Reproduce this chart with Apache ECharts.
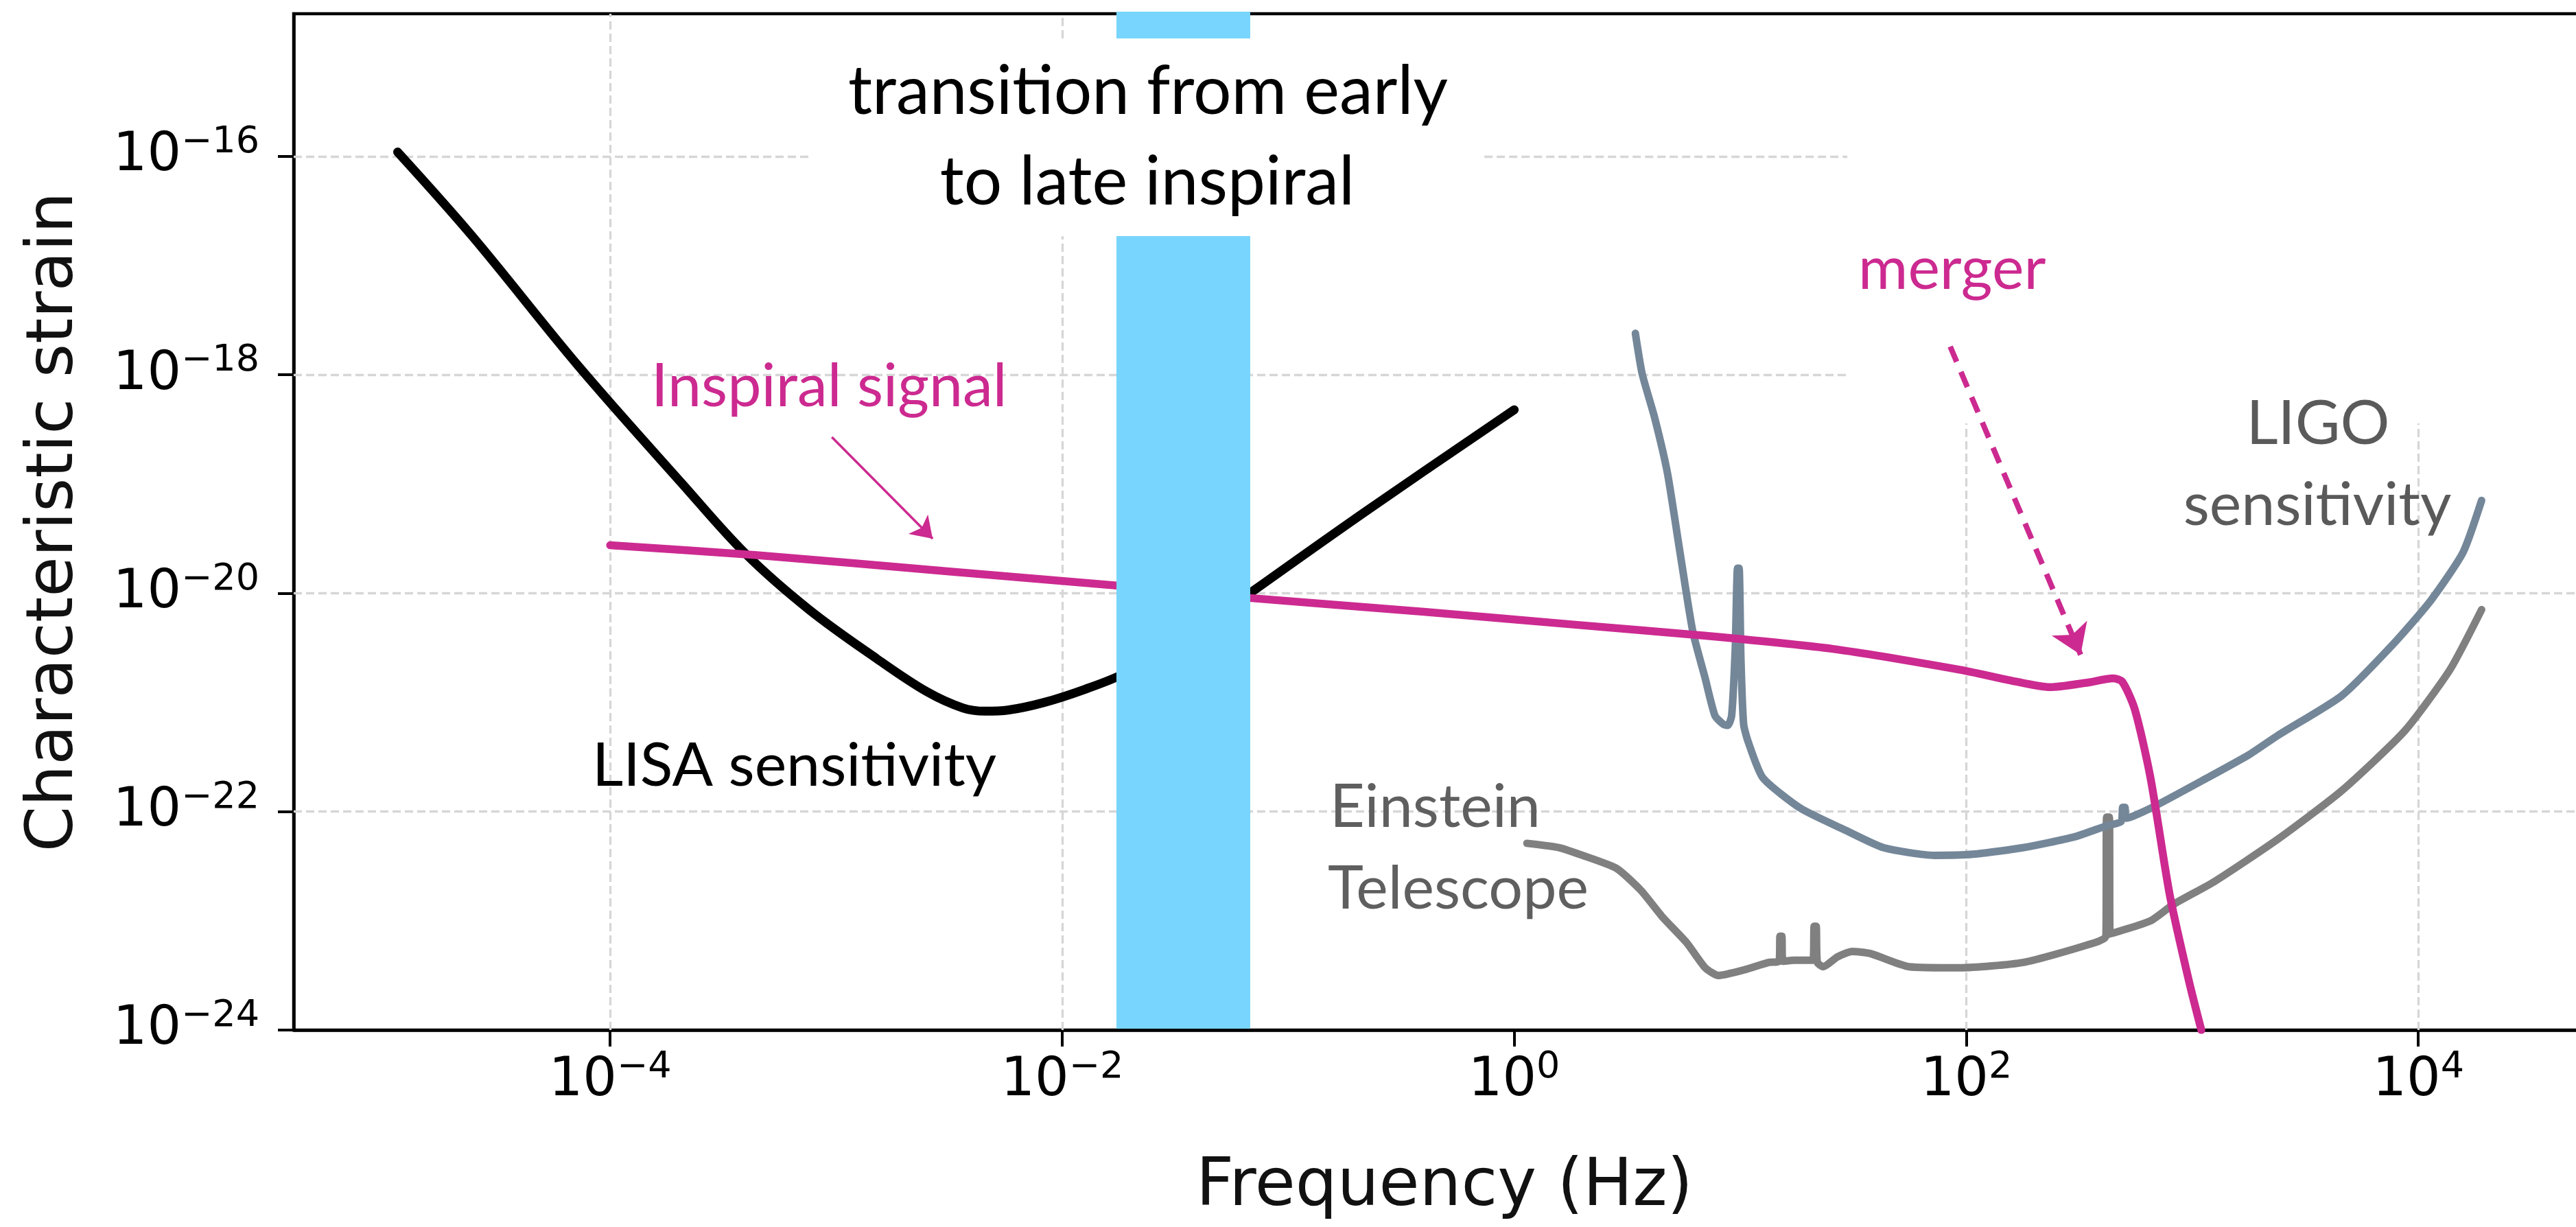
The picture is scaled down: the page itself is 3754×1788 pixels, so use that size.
<!DOCTYPE html>
<html>
<head>
<meta charset="utf-8">
<script src="https://cdn.jsdelivr.net/npm/echarts@6/dist/echarts.min.js"></script>
<style>
html,body{margin:0;padding:0;background:#fff;}
#chart{width:3754px;height:1788px;}
</style>
</head>
<body>
<div id="chart"></div>
<script>
// ---- axis ticks (log10 exponents) ----
const xTickExps = [-4, -2, 0, 2, 4];
const yTickExps = [-24, -22, -20, -18, -16];

// ---- curves, as log10(frequency / Hz) and log10(characteristic strain) ----
const lisaLogF = [-4.94, -4.61, -4.14, -3.68, -3.40, -3.12, -2.82, -2.60, -2.44, -2.34, -2.24, -2.08, -1.90, -1.73, -1.45, -1.19, -0.65, 0.0];
const lisaLogH = [-15.96, -16.73, -17.92, -19.00, -19.64, -20.15, -20.60, -20.90, -21.05, -21.08, -21.07, -21.00, -20.88, -20.74, -20.42, -20.03, -19.24, -18.32];

const inspLogF = [-4.0, -3.36, -2.5, -1.76, -1.19, -0.4, 0.28, 0.85, 1.41, 1.97, 2.20, 2.37, 2.53, 2.65, 2.69, 2.745, 2.815, 2.90, 2.985, 3.04];
const inspLogH = [-19.56, -19.65, -19.80, -19.93, -20.04, -20.17, -20.29, -20.39, -20.51, -20.70, -20.80, -20.86, -20.82, -20.78, -20.81, -21.06, -21.69, -22.76, -23.55, -24.0];

const ligoLogF = [0.536, 0.566, 0.621, 0.678, 0.733, 0.79, 0.845, 0.888, 0.925, 0.945, 0.962, 0.978, 0.988, 0.995, 1.003, 1.015, 1.035, 1.10, 1.267, 1.465, 1.634, 1.859, 2.03, 2.25, 2.48, 2.62, 2.685, 2.692, 2.702, 2.708, 2.824, 3.067, 3.25, 3.38, 3.66, 3.887, 4.054, 4.197, 4.28];
const ligoLogH = [-17.62, -17.99, -18.39, -18.90, -19.62, -20.35, -20.78, -21.12, -21.20, -21.21, -21.12, -20.50, -19.77, -19.77, -20.60, -21.20, -21.36, -21.69, -21.97, -22.17, -22.33, -22.40, -22.39, -22.33, -22.23, -22.13, -22.09, -21.96, -21.96, -22.06, -21.96, -21.69, -21.48, -21.30, -20.94, -20.47, -20.07, -19.63, -19.15];

const etLogF = [0.056, 0.20, 0.302, 0.453, 0.56, 0.654, 0.763, 0.845, 0.903, 1.015, 1.127, 1.172, 1.176, 1.184, 1.188, 1.24, 1.322, 1.327, 1.336, 1.341, 1.367, 1.43, 1.495, 1.577, 1.747, 1.971, 2.254, 2.536, 2.618, 2.621, 2.633, 2.636, 2.815, 2.916, 3.098, 3.38, 3.66, 3.94, 4.14, 4.28];
const etLogH = [-22.29, -22.33, -22.40, -22.52, -22.72, -22.96, -23.20, -23.43, -23.50, -23.45, -23.38, -23.37, -23.14, -23.14, -23.37, -23.36, -23.36, -23.05, -23.05, -23.38, -23.42, -23.33, -23.28, -23.30, -23.42, -23.43, -23.38, -23.22, -23.14, -22.05, -22.05, -23.12, -23.00, -22.85, -22.64, -22.25, -21.81, -21.26, -20.70, -20.15];

// transition band (log10 frequency)
const bandLogF = [-1.76, -1.168];

// annotation arrows (log10 f, log10 h)
const inspArrow = [[-3.019, -18.571], [-2.573, -19.501]];
const mergerArrow = [[1.929, -17.741], [2.506, -20.563]];

// ---- axis extents ----
const X_MIN = -5.4, X_MAX = 4.728;
const Y_MIN = -24, Y_MAX = -14.693;

// grid line segments (parts hidden in the original are left out)
const gridSegs = [
  [[X_MIN, -22], [X_MAX, -22]],
  [[X_MIN, -20], [X_MAX, -20]],
  [[X_MIN, -18], [1.474, -18]],
  [[X_MIN, -16], [-3.117, -16]],
  [[-0.132, -16], [1.474, -16]],
  [[-4, Y_MIN], [-4, Y_MAX]],
  [[-2, Y_MIN], [-2, -16.73]],
  [[-2, -14.92], [-2, Y_MAX]],
  [[2, Y_MIN], [2, -18.445]],
  [[4, Y_MIN], [4, -18.445]]
];

const MAG = '#CC2A90', LIGO_C = '#748799', ET_C = '#808080', BAND = '#78D5FD';
const zip = (a, b) => a.map((v, i) => [v, b[i]]);
const supLabel = v => '{b|10}{s|' + (v < 0 ? '\u2212' : '') + Math.abs(v) + '}';
const richTicks = {
  b: { fontSize: 78, fontFamily: 'DejaVu Sans', color: '#000', lineHeight: 80 },
  s: { fontSize: 54, fontFamily: 'DejaVu Sans', color: '#000', lineHeight: 54, padding: [0, 0, 40, 0] }
};
const annFont = 'Lato';
const curve = (name, f, h, color, width, z, smooth) => ({
  type: 'line', name, data: zip(f, h), showSymbol: false, z, silent: true,
  smooth,
  lineStyle: { color, width, cap: 'round', join: 'round' }
});

const chart = echarts.init(document.getElementById('chart'), null, { renderer: 'canvas' });
chart.setOption({
  animation: false,
  backgroundColor: '#fff',
  grid: { left: 428, right: -10, top: 20, bottom: 287, show: true, borderColor: '#000', borderWidth: 4.5, outerBoundsMode: 'none', containLabel: false },
  xAxis: {
    type: 'value', min: X_MIN, max: X_MAX,
    name: 'Frequency (Hz)', nameLocation: 'middle', nameGap: 182,
    nameTextStyle: { fontSize: 96, fontFamily: 'DejaVu Sans', color: '#111', padding: [0, 0, 0, 18] },
    axisLine: { show: true, onZero: false, lineStyle: { color: '#000', width: 4.5 } },
    axisTick: { show: true, customValues: xTickExps, length: 24, lineStyle: { color: '#000', width: 4 } },
    axisLabel: { customValues: xTickExps, formatter: supLabel, rich: richTicks, margin: 35 },
    splitLine: { show: false }
  },
  yAxis: {
    type: 'value', min: Y_MIN, max: Y_MAX,
    name: 'Characteristic strain', nameLocation: 'middle', nameRotate: 90, nameGap: 300,
    nameTextStyle: { fontSize: 95, fontFamily: 'DejaVu Sans', color: '#111' },
    axisLine: { show: true, onZero: false, lineStyle: { color: '#000', width: 4.5 } },
    axisTick: { show: true, customValues: yTickExps, length: 23, lineStyle: { color: '#000', width: 4 } },
    axisLabel: { customValues: yTickExps, formatter: supLabel, rich: richTicks, margin: 50 },
    splitLine: { show: false }
  },
  series: [
    {
      type: 'lines', coordinateSystem: 'cartesian2d', silent: true, z: 1,
      data: gridSegs.map(s => ({ coords: s })),
      lineStyle: { color: '#d6d6d6', width: 3.3, type: [12, 6], opacity: 1 }
    },
    curve('Einstein Telescope', etLogF, etLogH, ET_C, 11, 2, 0.2),
    curve('LIGO', ligoLogF, ligoLogH, LIGO_C, 11, 2, 0.2),
    curve('LISA', lisaLogF, lisaLogH, '#000', 13, 2, 0.35),
    curve('Inspiral', inspLogF, inspLogH, MAG, 11.5, 3, 0.25),
    {
      type: 'custom', z: 4, silent: true,
      data: [[bandLogF[0], bandLogF[1]]],
      encode: { x: [0, 1] },
      renderItem: (params, api) => {
        const p0 = api.coord([api.value(0), Y_MAX]);
        const p1 = api.coord([api.value(1), Y_MIN]);
        return { type: 'rect', shape: { x: p0[0], y: p0[1] - 3, width: p1[0] - p0[0], height: p1[1] - p0[1] + 1 }, style: { fill: BAND } };
      }
    },
    {
      type: 'lines', coordinateSystem: 'cartesian2d', silent: true, z: 5,
      data: [{ coords: inspArrow }],
      symbol: ['none', 'arrow'], symbolSize: 30,
      lineStyle: { color: MAG, width: 3.5, opacity: 1 }
    },
    {
      type: 'lines', coordinateSystem: 'cartesian2d', silent: true, z: 5,
      data: [{ coords: mergerArrow }],
      symbol: ['none', 'arrow'], symbolSize: 42,
      lineStyle: { color: MAG, width: 8, type: [24, 16], opacity: 1 }
    }
  ],
  graphic: [
    { type: 'rect', z: 10, shape: { x: 1180, y: 56, width: 983, height: 288 }, style: { fill: '#fff' } },
    { type: 'text', z: 11, x: 1673, y: 134, style: { text: 'transition from early', fontSize: 98, fontFamily: annFont, fill: '#000', align: 'center', verticalAlign: 'middle' } },
    { type: 'text', z: 11, x: 1672, y: 266, style: { text: 'to late inspiral', fontSize: 98, fontFamily: annFont, fill: '#000', align: 'center', verticalAlign: 'middle' } },
    { type: 'text', z: 11, x: 949, y: 564, style: { text: 'Inspiral signal', fontSize: 88, fontFamily: annFont, fill: MAG, align: 'left', verticalAlign: 'middle' } },
    { type: 'text', z: 11, x: 863, y: 1117, style: { text: 'LISA sensitivity', fontSize: 88, fontFamily: annFont, fill: '#000', align: 'left', verticalAlign: 'middle' } },
    { type: 'text', z: 11, x: 2708, y: 393, style: { text: 'merger', fontSize: 88, fontFamily: annFont, fill: MAG, align: 'left', verticalAlign: 'middle' } },
    { type: 'text', z: 11, x: 3378, y: 618, style: { text: 'LIGO', fontSize: 90, fontFamily: annFont, fill: '#5a5a5a', align: 'center', verticalAlign: 'middle' } },
    { type: 'text', z: 11, x: 3377, y: 737, style: { text: 'sensitivity', fontSize: 88, fontFamily: annFont, fill: '#5a5a5a', align: 'center', verticalAlign: 'middle' } },
    { type: 'text', z: 11, x: 1938, y: 1177, style: { text: 'Einstein', fontSize: 88, fontFamily: annFont, fill: '#5f5f5f', align: 'left', verticalAlign: 'middle' } },
    { type: 'text', z: 11, x: 1935, y: 1296, style: { text: 'Telescope', fontSize: 88, fontFamily: annFont, fill: '#5f5f5f', align: 'left', verticalAlign: 'middle' } }
  ]
});
</script>
</body>
</html>
